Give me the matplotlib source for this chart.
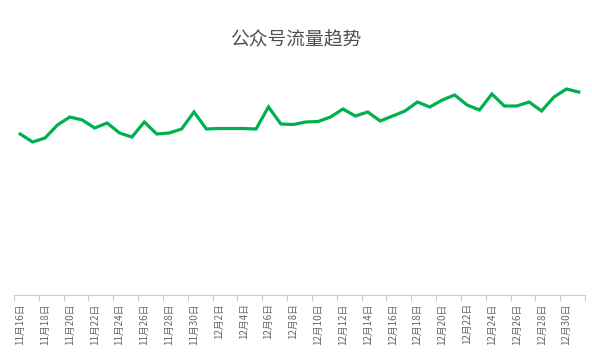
import matplotlib.pyplot as plt
import matplotlib.ticker as plticker

plt.rcParams['font.family'] = ['Noto Sans CJK SC', 'DejaVu Sans']

dates = [f'11月{d}日' for d in range(16, 31)] + [f'12月{d}日' for d in range(1, 32)]
visits = [1610, 1530, 1570, 1700, 1780, 1750, 1670, 1720, 1620, 1580,
          1730, 1610, 1620, 1660, 1830, 1660, 1665, 1665, 1665, 1660,
          1880, 1710, 1705, 1730, 1735, 1780, 1860, 1790, 1830, 1740,
          1790, 1840, 1930, 1880, 1950, 2000, 1900, 1850, 2010, 1890,
          1890, 1930, 1840, 1980, 2060, 2030]

fig = plt.figure(figsize=(5.92, 3.54), dpi=100)
ax = fig.add_axes([14 / 592, 59 / 354, 571 / 592, 235 / 354])

x = list(range(len(dates)))
ax.plot(x, visits, color='#00b050', linewidth=2.3, solid_joinstyle='miter')

ax.set_xlim(-0.5, len(dates) - 0.5)
ax.set_ylim(0, 2350)

# labels on every other day, ticks on the category boundaries
ax.set_xticks(x[::2], labels=dates[::2], rotation='vertical')
ax.xaxis.set_minor_locator(plticker.FixedLocator([i - 0.5 for i in range(0, len(dates) + 1, 2)]))
ax.tick_params(axis='x', which='major', length=0, pad=6, labelsize=7, labelcolor='#666666')
ax.tick_params(axis='x', which='minor', length=4, color='#cccccc', width=0.8)
ax.set_yticks([])

for side in ['top', 'right', 'left']:
    ax.spines[side].set_visible(False)
ax.spines['bottom'].set_color('#cccccc')
ax.spines['bottom'].set_linewidth(0.8)

fig.text(0.5, 1 - 40 / 354, '公众号流量趋势', ha='center', va='center',
         fontsize=13.5, color='#505050')

plt.savefig('out.png', dpi=100)
